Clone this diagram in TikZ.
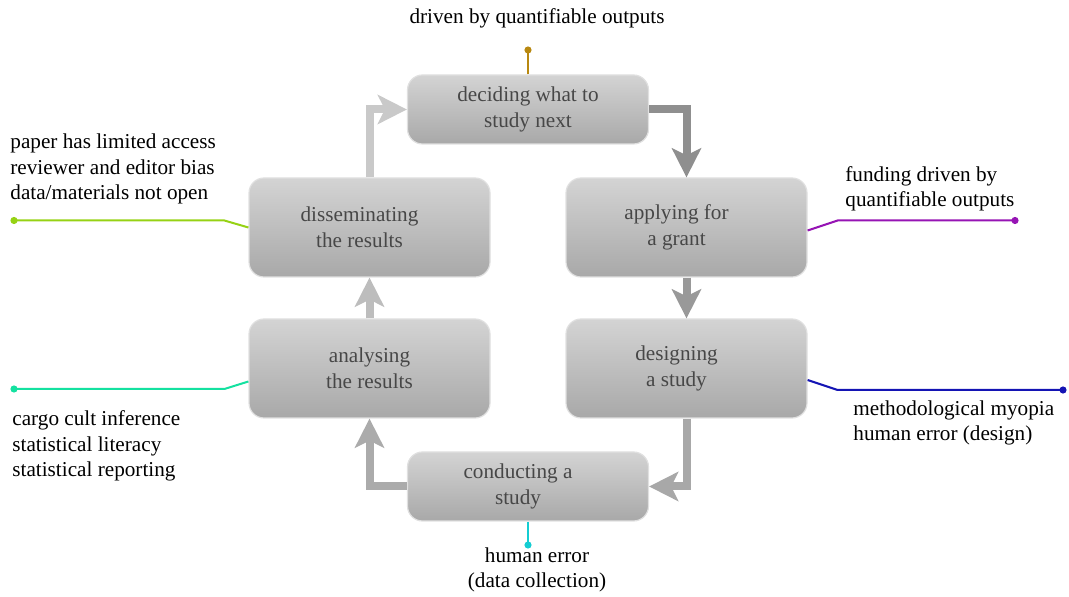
\documentclass[tikz,border=0pt]{standalone}
\usepackage{fontspec}
\setmainfont{Liberation Serif}
\usetikzlibrary{arrows.meta}
\definecolor{pingold}{RGB}{184,136,16}
\definecolor{pinlime}{RGB}{150,210,20}
\definecolor{pinteal}{RGB}{20,225,160}
\definecolor{pinpurple}{RGB}{150,20,180}
\definecolor{pinblue}{RGB}{20,20,180}
\definecolor{pincyan}{RGB}{20,205,210}
\newcommand{\nudge}{\hspace*{10pt}}

\begin{document}
\begin{tikzpicture}[x=0.5pt,y=-0.5pt,
  font=\fontsize{10.6}{12.6}\selectfont,
  stage/.style={draw=black!12,line width=0.6pt,rounded corners=7.5pt,
    top color=black!17,bottom color=black!34,text=black!72,align=center,
    minimum width=120.5pt,font=\fontsize{10.6}{13}\selectfont},
  wide/.style={minimum height=34.5pt},
  tall/.style={minimum height=49.5pt},
  flow/.style={line width=4pt,-{Stealth[length=14.5pt,width=14.5pt,inset=3.5pt]}},
  pin/.style={line width=1pt,-{Circle[length=3.5pt]}},
  note/.style={inner sep=0pt,align=left,anchor=west}]
\useasboundingbox (0,0) rectangle (1069,597);
% the six stages
\node[stage,wide] (decide) at (528,109.5) {deciding what to\\study next};
\node[stage,tall] (spread) at (369.5,227.5) {disseminating\nudge\\the results\nudge};
\node[stage,tall] (grant) at (686.5,227.5) {applying for\nudge\\a grant\nudge};
\node[stage,tall] (analyse) at (369.5,368.5) {analysing\\the results};
\node[stage,tall] (design) at (686.5,368.5) {designing\nudge\\a study\nudge};
\node[stage,wide] (conduct) at (528,486.5) {conducting a\nudge\\study\nudge};
% the cycle
\draw[flow,black!21] (spread.north) |- (decide.west);
\draw[flow,black!44] (decide.east) -| (grant.north);
\draw[flow,black!40] (grant.south) -- (design.north);
\draw[flow,black!34] (design.south) |- (conduct.east);
\draw[flow,black!33] (conduct.west) -| (analyse.south);
\draw[flow,black!26] (analyse.north) -- (spread.south);
% threats
\coordinate (decidedot) at (528,46.5);
\coordinate (spreaddot) at (10.5,220.5);
\coordinate (analysedot) at (10.5,389);
\coordinate (grantdot) at (1018.5,220.5);
\coordinate (designdot) at (1066.5,390);
\coordinate (conductdot) at (528,548.5);
\draw[pin,pingold] (decide.north) -- (decidedot);
\draw[pin,pinlime] (spread.west) -- ++(-24,-7) -- (spreaddot);
\draw[pin,pinteal] ([yshift=-6.5pt]analyse.west) -- ++(-24,7.5) -- (analysedot);
\draw[pin,pinpurple] ([yshift=-1.5pt]grant.east) -- ++(30,-10) -- (grantdot);
\draw[pin,pinblue] ([yshift=-5.75pt]design.east) -- ++(30,10) -- (designdot);
\draw[pin,pincyan] (conduct.south) -- (conductdot);
\node[inner sep=0pt] (decidetext) at (537,18) {driven by quantifiable outputs};
\node[note] (spreadtext) at (10,169) {paper has limited access\\reviewer and editor bias\\data/materials not open};
\node[note] (analysetext) at (12,446) {cargo cult inference\\statistical literacy\\statistical reporting};
\node[note] (granttext) at (845,189) {funding driven by\\quantifiable outputs};
\node[note] (designtext) at (853,423) {methodological myopia\\human error (design)};
\node[inner sep=0pt,align=center] (conducttext) at (537,570) {human error\\(data collection)};
\end{tikzpicture}
\end{document}
